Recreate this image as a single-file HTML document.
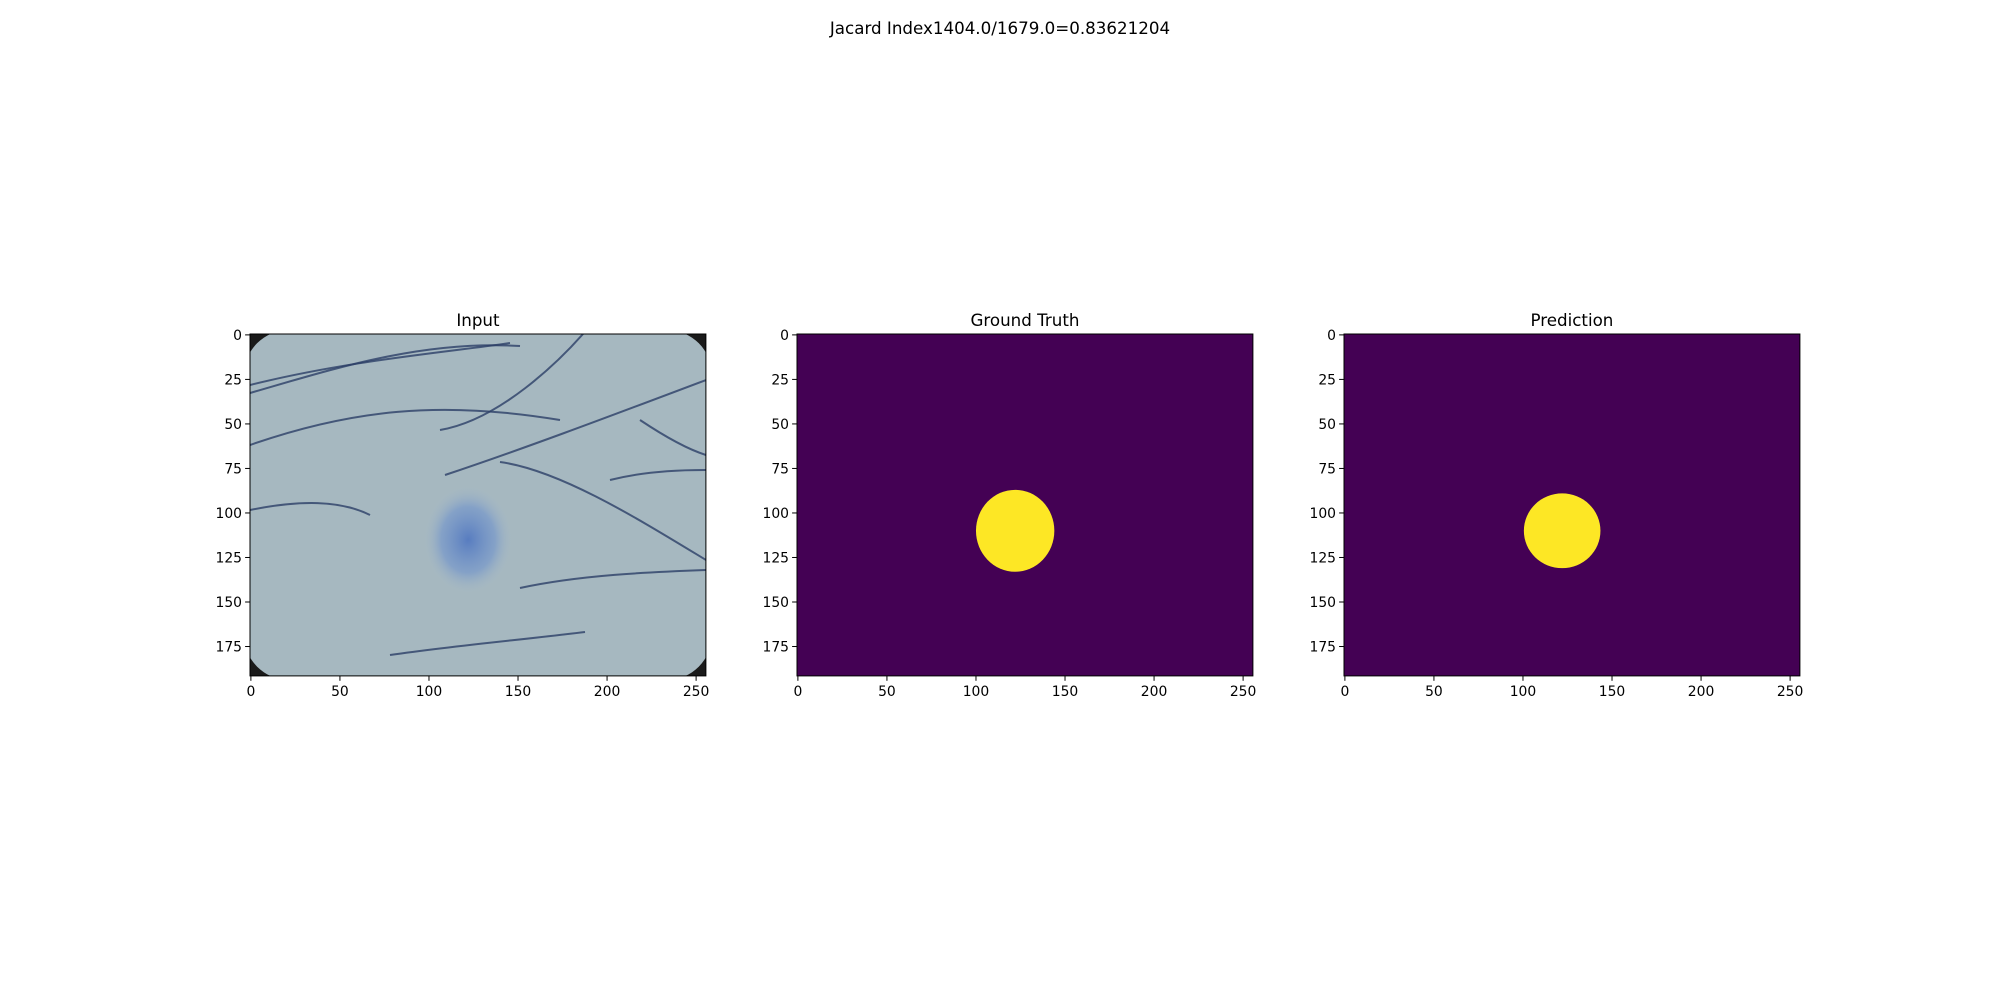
<!DOCTYPE html>
<html><head><meta charset="utf-8"><style>
body{margin:0;background:#fff;width:2000px;height:1000px;overflow:hidden}
svg text{font-family:"DejaVu Sans","Liberation Sans",sans-serif}
</style></head><body>
<svg id="fig" width="2000" height="1000">
<defs>
<radialGradient id="spot"><stop offset="0" stop-color="#4a72c0" stop-opacity="0.85"/><stop offset="0.6" stop-color="#6e92cc" stop-opacity="0.6"/><stop offset="1" stop-color="#a9bcc8" stop-opacity="0"/></radialGradient>
<clipPath id="c0"><rect x="250" y="334" width="456" height="342"/></clipPath>
</defs>
<text x="1000" y="34" text-anchor="middle" font-size="16.7">Jacard Index1404.0/1679.0=0.83621204</text>
</svg>
<script>
const panelTitles=["Input","Ground Truth","Prediction"];
const xTicks=[0,50,100,150,200,250];
const yTicks=[0,25,50,75,100,125,150,175];
const maskCx=[122,122];
const maskCy=[110,110];
const maskRx=[22,21.5];
const maskRy=[23,21];
const lefts=[250,797,1344];
const W=455.9,H=341.9,top0=334,NX=256,NY=192;
const NS="http://www.w3.org/2000/svg";
const svg=document.getElementById('fig');
function mk(t,a,p){const e=document.createElementNS(NS,t);for(const k in a)e.setAttribute(k,a[k]);(p||svg).appendChild(e);return e;}
panelTitles.forEach((t,i)=>{
  const L=lefts[i];
  const sx=v=>L+(v+0.5)*W/NX, sy=v=>top0+(v+0.5)*H/NY;
  const g=mk('g',{});
  
  
  const tt=mk('text',{x:L+W/2,y:top0-8,'text-anchor':'middle','font-size':16.7},g);tt.textContent=t;
  
  
  if(i===0){
    const ig=mk('g',{'clip-path':'url(#c0)'},g);
    
    
    mk('rect',{x:L,y:top0,width:W,height:H,fill:'#1a1a1a'},ig);
    mk('rect',{x:L-6,y:top0-4,width:W+12,height:H+8,rx:45,ry:45,fill:'#a6b8c0'},ig);
    mk('ellipse',{cx:sx(122),cy:sy(115),rx:45,ry:55,fill:'url(#spot)'},ig);
    const curves=["M250,393 C330,370 420,340 520,346","M250,385 C350,360 450,352 510,343","M250,445 C350,410 440,400 560,420","M440,430 C500,420 560,360 583,334","M445,475 C520,450 600,420 706,380","M500,462 C560,470 640,520 706,560","M520,588 C580,575 650,572 706,570","M390,655 C460,645 520,640 585,632","M250,510 C300,500 340,500 370,515","M610,480 C650,470 690,470 706,470","M640,420 C670,440 690,450 706,455"];
    curves.forEach(d=>{const p=mk('path',{d:d,fill:'none',stroke:'#2c3f66','stroke-width':2,opacity:0.8},ig);});
  } else {
    const r=mk('rect',{x:L,y:top0,width:W,height:H,fill:'#440154'},g);
    
    
    const k=i-1;
    const e=mk('ellipse',{cx:sx(maskCx[k]),cy:sy(maskCy[k]),rx:maskRx[k]*W/NX,ry:maskRy[k]*H/NY,fill:'#fde725'},g);
    
    
  }
  const fr=mk('rect',{x:L,y:top0,width:W,height:H,fill:'none',stroke:'#000','stroke-width':1},g);
  
  
  xTicks.forEach(v=>{const x=sx(v);mk('line',{x1:x,x2:x,y1:top0+H,y2:top0+H+4.9,stroke:'#000'},g);
    const tx=mk('text',{x:x,y:top0+H+20,'text-anchor':'middle','font-size':13.9},g);tx.textContent=v;
    
    });
  yTicks.forEach(v=>{const y=sy(v);mk('line',{x1:L-4.9,x2:L,y1:y,y2:y,stroke:'#000'},g);
    const ty=mk('text',{x:L-8,y:y+5,'text-anchor':'end','font-size':13.9},g);ty.textContent=v;
    
    });
});
</script>
</body></html>
